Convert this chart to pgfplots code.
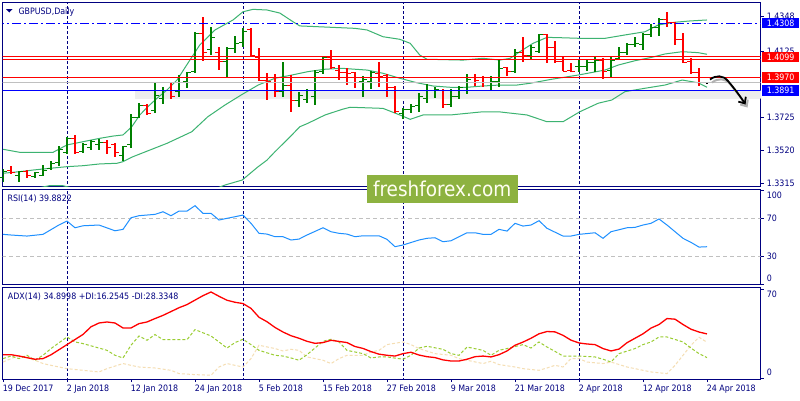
\documentclass[border=0pt]{standalone}
\usepackage{fontspec}
\setmainfont{DejaVu Sans Condensed}
\usepackage{pgfplots}
\pgfplotsset{compat=1.18}
\usepackage{pgfplotstable}
\usetikzlibrary{arrows.meta}

\definecolor{mtnavy}{RGB}{0,0,128}
\definecolor{mtgreen}{RGB}{0,128,0}
\definecolor{mtred}{RGB}{255,0,0}
\definecolor{bband}{RGB}{60,179,113}
\definecolor{rsiblue}{RGB}{30,144,255}
\definecolor{diplus}{RGB}{154,205,50}
\definecolor{diminus}{RGB}{245,222,179}
\definecolor{lvlblue}{RGB}{0,0,255}
\definecolor{wmgreen}{RGB}{141,178,64}
\definecolor{silv}{RGB}{192,192,192}

\newcommand\mt{\fontsize{8.8}{10.5}\selectfont}

\pgfdeclareplotmark{ohlcopen}{\pgfpathmoveto{\pgfqpoint{-3.6pt}{0pt}}\pgfpathlineto{\pgfqpoint{0pt}{0pt}}\pgfusepathqstroke}
\pgfdeclareplotmark{ohlcclose}{\pgfpathmoveto{\pgfqpoint{0pt}{0pt}}\pgfpathlineto{\pgfqpoint{3.6pt}{0pt}}\pgfusepathqstroke}

% GBPUSD daily bars: index, open, high, low, close
\pgfplotstableread{
i o h l c
0 1.3347 1.3403 1.3322 1.3384
2 1.3365 1.3390 1.3322 1.3384
4 1.3359 1.3384 1.3347 1.3378
5 1.3365 1.3427 1.3359 1.3396
6 1.3403 1.3452 1.3396 1.3434
7 1.3440 1.3545 1.3421 1.3521
8 1.3502 1.3601 1.3496 1.3589
10 1.3514 1.3564 1.3502 1.3552
11 1.3533 1.3583 1.3521 1.3576
12 1.3552 1.3589 1.3521 1.3570
15 1.3489 1.3545 1.3452 1.3545
16 1.3552 1.3744 1.3533 1.3725
17 1.3725 1.3812 1.3719 1.3794
19 1.3763 1.3943 1.3750 1.3862
20 1.3843 1.3912 1.3806 1.3887
22 1.3881 1.3986 1.3850 1.3968
23 1.3943 1.4005 1.3906 1.3999
24 1.4005 1.4253 1.3999 1.4241
26 1.4142 1.4284 1.4110 1.4222
28 1.4073 1.4160 1.3974 1.4148
29 1.4148 1.4228 1.4123 1.4185
30 1.4191 1.4278 1.4160 1.4259
35 1.3881 1.4067 1.3850 1.3918
37 1.3831 1.3881 1.3788 1.3856
38 1.3837 1.3899 1.3812 1.3893
39 1.3850 1.4017 1.3800 1.3999
40 1.4005 1.4104 1.3993 1.4098
45 1.3943 1.3980 1.3850 1.3961
46 1.3949 1.4011 1.3899 1.3999
50 1.3750 1.3781 1.3713 1.3775
51 1.3775 1.3806 1.3750 1.3788
52 1.3794 1.3875 1.3757 1.3850
53 1.3843 1.3930 1.3812 1.3893
54 1.3887 1.3912 1.3843 1.3899
56 1.3800 1.3899 1.3788 1.3850
57 1.3850 1.3918 1.3837 1.3906
58 1.3893 1.3993 1.3868 1.3961
61 1.3937 1.3980 1.3887 1.3949
62 1.3949 1.4079 1.3912 1.4024
64 1.4005 1.4148 1.3999 1.4129
66 1.4110 1.4173 1.4086 1.4154
67 1.4135 1.4241 1.4123 1.4235
72 1.4036 1.4086 1.4005 1.4042
73 1.4036 1.4086 1.4011 1.4061
74 1.4061 1.4098 1.4005 1.4079
76 1.4017 1.4104 1.3974 1.4079
77 1.4086 1.4160 1.4079 1.4123
78 1.4123 1.4185 1.4110 1.4173
79 1.4173 1.4222 1.4160 1.4185
80 1.4173 1.4247 1.4142 1.4235
81 1.4235 1.4303 1.4222 1.4284
82 1.4284 1.4340 1.4228 1.4328
}\upbars

\pgfplotstableread{
i o h l c
1 1.3396 1.3421 1.3371 1.3378
3 1.3390 1.3396 1.3347 1.3365
9 1.3595 1.3614 1.3496 1.3508
13 1.3564 1.3583 1.3496 1.3533
14 1.3552 1.3564 1.3477 1.3502
18 1.3794 1.3806 1.3738 1.3750
21 1.3893 1.3937 1.3837 1.3850
25 1.4247 1.4346 1.4073 1.4129
27 1.4129 1.4160 1.4017 1.4073
31 1.4266 1.4278 1.4098 1.4110
32 1.4098 1.4154 1.3949 1.3955
33 1.3955 1.3999 1.3831 1.3949
34 1.3937 1.3993 1.3850 1.3881
36 1.3918 1.3986 1.3757 1.3831
41 1.4098 1.4142 1.4024 1.4030
42 1.4017 1.4048 1.3955 1.4000
43 1.3999 1.4030 1.3924 1.3993
44 1.3999 1.4005 1.3906 1.3968
47 1.3993 1.4067 1.3912 1.3980
48 1.3986 1.3993 1.3850 1.3906
49 1.3906 1.3918 1.3750 1.3757
55 1.3893 1.3899 1.3781 1.3806
59 1.3968 1.3993 1.3918 1.3955
60 1.3968 1.3980 1.3912 1.3937
63 1.4030 1.4036 1.3980 1.4005
65 1.4129 1.4222 1.4067 1.4110
68 1.4235 1.4241 1.4061 1.4154
69 1.4154 1.4197 1.4061 1.4073
70 1.4073 1.4098 1.4011 1.4011
71 1.4017 1.4061 1.4005 1.4011
75 1.4079 1.4092 1.3961 1.4011
83 1.4328 1.4377 1.4284 1.4315
84 1.4315 1.4315 1.4173 1.4204
85 1.4204 1.4247 1.4061 1.4067
86 1.4073 1.4092 1.3993 1.3999
87 1.3999 1.4030 1.3918 1.3937
}\downbars

\pgfplotstableread{
i o h l c
88 1.3937 1.3943 1.3930 1.3937
}\lastbar

\pgfplotsset{
  mtaxis/.style={
    scale only axis, width=758pt,
    xmin=-0.0375, xmax=94.7125,
    axis line style={mtnavy, line width=1pt},
    tick align=outside, major tick length=3pt,
    tick style={mtnavy, line width=0.8pt},
    ytick pos=right, yticklabel pos=right,
    yticklabel style={anchor=west, inner sep=0pt, xshift=3pt, text=mtnavy, font=\mt},
    xticklabel style={text=mtnavy, font=\mt},
    /pgf/number format/assume math mode=true,
    xtick=\empty,
  },
  sep/.style={mtnavy, line width=1pt, dash pattern=on 3pt off 2pt},
  hilo/.style={only marks, mark=ohlcopen, mark options={solid, line width=1pt},
    error bars/y dir=both, error bars/y explicit, error bars/error mark=none,
    error bars/error bar style={solid, line width=1.3pt}},
  closetick/.style={only marks, mark=ohlcclose, mark options={solid, line width=1pt}},
}

\begin{document}
\begin{tikzpicture}
\path[use as bounding box, fill=white] (0pt,0pt) rectangle (800pt,-400pt);

% ================= price window =================
\begin{axis}[mtaxis,
  at={(2.7pt,-2.5pt)}, anchor=north west, height=184pt,
  ymin=1.32938, ymax=1.44365,
  ytick={1.3315,1.3520,1.3725,1.4133,1.4348},
  yticklabels={1.3315,1.3520,1.3725,1.4125,1.4348},
  clip mode=individual,
]
\addplot[sep] coordinates {(8,1.3) (8,1.5)};
\addplot[sep] coordinates {(30,1.3) (30,1.5)};
\addplot[sep] coordinates {(50,1.3) (50,1.5)};
\addplot[sep] coordinates {(72,1.3) (72,1.5)};

% soft shadow under the support line
\fill[top color=black!14, bottom color=white] (axis cs:16.5,1.3887) rectangle (axis cs:94.7,1.3840);

% Bollinger bands (20,2)
\addplot[bband, line width=1pt] coordinates {
(0,1.3525) (2.1,1.3506) (6.25,1.3506) (8,1.3552) (10,1.3572) (12.1,1.3593) (13.75,1.3607) (15,1.3614) (16.1,1.3665) (17.1,1.3738) (18.1,1.3789) (19.25,1.3842) (20.5,1.3893) (21.75,1.3955) (23.4,1.4082) (24.6,1.4173) (26.5,1.4266) (28.75,1.4328) (30,1.4379) (31.25,1.4394) (33,1.4390) (34.6,1.4371) (36.25,1.4317) (37.1,1.4291) (41.25,1.4282) (44,1.4276) (45.5,1.4266) (47.5,1.4224) (49.6,1.4208) (50.9,1.4183) (52.1,1.4110) (53,1.4084) (57.5,1.4079) (60,1.4090) (62.1,1.4079) (63.4,1.4090) (64.6,1.4131) (66.25,1.4183) (68,1.4220) (69.6,1.4218) (72.1,1.4214) (75.25,1.4214) (77.75,1.4235) (80.25,1.4255) (81.9,1.4297) (84,1.4314) (85.9,1.4322) (88,1.4328)};
\addplot[bband, line width=1pt] coordinates {
(0,1.3376) (2.1,1.3386) (3.75,1.3396) (5.9,1.3407) (8,1.3417) (10,1.3423) (12.1,1.3434) (14.25,1.3438) (15,1.3448) (16.25,1.3479) (18.4,1.3521) (20.5,1.3562) (22.1,1.3599) (23.6,1.3634) (25.6,1.3727) (27.75,1.3800) (29.9,1.3866) (31.9,1.3924) (34,1.3966) (36.1,1.3986) (38.1,1.4007) (40.25,1.4022) (42.4,1.4028) (44,1.4022) (45.5,1.4017) (47.5,1.3997) (49.6,1.3966) (51.75,1.3938) (53.75,1.3918) (55.9,1.3910) (58,1.3910) (60,1.3918) (62.1,1.3924) (64.25,1.3924) (65.9,1.3935) (68.6,1.3960) (71.9,1.3986) (75.25,1.4017) (76.9,1.4048) (79,1.4075) (81.1,1.4096) (82.75,1.4117) (84.9,1.4131) (86.9,1.4125) (88,1.4115)};
\addplot[bband, line width=1pt] coordinates {
(0,1.3230) (3,1.3270) (5.9,1.3300) (7.4,1.3300) (9,1.3280) (15,1.3270) (20,1.3230) (25,1.3250) (27.75,1.3303) (29.9,1.3334) (31.9,1.3417) (33,1.3458) (34,1.3510) (35.9,1.3603) (37.1,1.3665) (38.1,1.3686) (40.25,1.3738) (42.4,1.3773) (43.4,1.3786) (47.5,1.3779) (49.6,1.3738) (50.9,1.3711) (52.5,1.3738) (55.9,1.3738) (60,1.3758) (62.1,1.3757) (65.5,1.3738) (68,1.3696) (70,1.3696) (72.1,1.3758) (74.4,1.3811) (76.1,1.3831) (77.75,1.3883) (80.25,1.3904) (82.75,1.3924) (84.9,1.3955) (86.9,1.3938) (88,1.3910)};

% OHLC bars
\addplot[mtgreen, hilo] table[x=i, y=o, y error plus expr=\thisrow{h}-\thisrow{o}, y error minus expr=\thisrow{o}-\thisrow{l}] {\upbars};
\addplot[mtgreen, closetick] table[x=i, y=c] {\upbars};
\addplot[mtred, hilo] table[x=i, y=o, y error plus expr=\thisrow{h}-\thisrow{o}, y error minus expr=\thisrow{o}-\thisrow{l}] {\downbars};
\addplot[mtred, closetick] table[x=i, y=c] {\downbars};
\addplot[black, hilo] table[x=i, y=o, y error plus expr=\thisrow{h}-\thisrow{o}, y error minus expr=\thisrow{o}-\thisrow{l}] {\lastbar};
\addplot[black, closetick] table[x=i, y=c] {\lastbar};

% horizontal levels
\addplot[lvlblue, line width=1pt, dash pattern=on 9pt off 3pt on 2pt off 3pt] coordinates {(-1,1.4308) (96,1.4308)};
\addplot[mtred, line width=1pt] coordinates {(-1,1.4099) (96,1.4099)};
\addplot[mtred, line width=1pt] coordinates {(-1,1.4083) (96,1.4083)};
\addplot[mtred, line width=1pt] coordinates {(-1,1.3970) (96,1.3970)};
\addplot[silv, line width=1pt] coordinates {(-1,1.3938) (96,1.3938)};
\addplot[lvlblue, line width=1.2pt] coordinates {(-1,1.3891) (96,1.3891)};

\coordinate (bA) at (axis cs:94.7125,1.4308);
\coordinate (bB) at (axis cs:94.7125,1.4099);
\coordinate (bC) at (axis cs:94.7125,1.3970);
\coordinate (bD) at (axis cs:94.7125,1.3891);
\end{axis}

\begin{scope}[every node/.style={anchor=west, inner sep=0pt, minimum width=37.5pt, minimum height=10.5pt, text=white, font=\mt, xshift=1pt}]
\node[fill=lvlblue] at (bA) {1.4308};
\node[fill=mtred] at (bB) {1.4099};
\node[fill=mtred] at (bC) {1.3970};
\node[fill=lvlblue] at (bD) {1.3891};
\end{scope}

% ================= RSI window =================
\begin{axis}[mtaxis,
  at={(2.7pt,-189.3pt)}, anchor=north west, height=95pt,
  ymin=0, ymax=100.8,
  ytick={0,30,70,100},
  yticklabels={\raisebox{6pt}[\height][\depth]{0},30,70,\raisebox{-5pt}[\height][\depth]{100}},
]
\addplot[sep] coordinates {(8,-10) (8,120)};
\addplot[sep] coordinates {(30,-10) (30,120)};
\addplot[sep] coordinates {(50,-10) (50,120)};
\addplot[sep] coordinates {(72,-10) (72,120)};
\addplot[silv, line width=1pt, dash pattern=on 4pt off 3pt] coordinates {(-1,70) (96,70)};
\addplot[silv, line width=1pt, dash pattern=on 4pt off 3pt] coordinates {(-1,30) (96,30)};
\addplot[rsiblue, line width=1pt] coordinates {
(0,53.0)(1,52.3)(3,51.2)(5,53.0)(6,58.0)(7,63.0)(8,67.1)(9,60.0)(10,62.1)(12,62.9)(14,56.8)(15,58.3)(16,70.6)(17,72.8)(19,74.2)(20,77.0)(21,72.8)(22,77.7)(23,77.7)(24,83.4)(25,75.3)(26,75.3)(27,68.2)(28,70.0)(29,71.7)(30,73.5)(31,64.7)(32,54.1)(33,53.3)(34,50.5)(35,50.5)(36,47.0)(37,48.0)(38,52.3)(40,60.0)(41,55.8)(42,54.1)(43,53.3)(44,50.5)(45,51.5)(47,51.5)(48,47.7)(49,39.9)(50,41.7)(52,47.0)(53,48.8)(54,49.4)(55,45.2)(56,46.2)(58,54.7)(59,54.7)(60,53.0)(61,53.0)(62,58.3)(63,56.5)(64,64.7)(65,61.8)(66,62.9)(67,67.5)(68,59.4)(70,51.2)(71,51.2)(72,53.0)(74,54.7)(75,48.8)(76,55.8)(78,60.0)(79,60.4)(80,62.9)(81,64.7)(82,69.3)(83,62.9)(85,48.8)(86,44.5)(87,39.5)(88,39.88)};
\end{axis}

% ================= ADX window =================
\begin{axis}[mtaxis,
  at={(2.7pt,-287.3pt)}, anchor=north west, height=91.7pt,
  ymin=-0.55, ymax=71.57,
  ytick={0,70},
  yticklabels={\raisebox{6pt}[\height][\depth]{0},\raisebox{-5pt}[\height][\depth]{70}},
  xtick={0,8,16,24,32,40,48,56,64,72,80,88},
  xticklabels={19 Dec 2017,2 Jan 2018,12 Jan 2018,24 Jan 2018,5 Feb 2018,15 Feb 2018,27 Feb 2018,9 Mar 2018,21 Mar 2018,2 Apr 2018,12 Apr 2018,24 Apr 2018},
  xtick pos=left,
  xticklabel style={anchor=north west, inner sep=0pt, xshift=-0.4pt, yshift=-3pt},
]
\addplot[sep] coordinates {(8,-10) (8,90)};
\addplot[sep] coordinates {(30,-10) (30,90)};
\addplot[sep] coordinates {(50,-10) (50,90)};
\addplot[sep] coordinates {(72,-10) (72,90)};
% -DI
\addplot[diminus, line width=1pt, dash pattern=on 3pt off 2pt] coordinates {
(0,12.8)(2,18.1)(4,14.2)(5,11.6)(6,10.2)(8,7.6)(10,6.3)(12,5.0)(13,7.6)(15,11.6)(16,10.2)(17,8.9)(19,8.1)(21,6.3)(22,3.7)(24,2.9)(26,2.4)(27,8.9)(28,11.6)(29,10.2)(30,8.9)(31,15.5)(32,26.0)(34,23.4)(35,21.5)(36,22.8)(37,22.0)(38,16.8)(40,14.2)(41,11.6)(42,15.5)(43,18.1)(45,18.1)(46,20.7)(47,22.0)(48,26.5)(50,28.6)(51,26.5)(52,23.4)(54,19.4)(56,18.1)(57,15.5)(58,14.2)(60,11.6)(61,13.4)(62,10.8)(64,8.9)(65,7.6)(67,6.3)(68,8.1)(69,10.2)(70,8.9)(71,15.5)(72,15.5)(73,12.8)(75,11.6)(76,12.8)(78,8.9)(80,6.3)(81,5.0)(83,3.7)(84,10.2)(85,18.1)(86,26.0)(87,32.3)(88,28.33)};
% +DI
\addplot[diplus, line width=1pt, dash pattern=on 3pt off 2pt] coordinates {
(0,15.5)(1,17.5)(2,15.5)(3,18.1)(4,14.2)(5,18.1)(6,23.4)(8,32.5)(9,28.6)(10,27.3)(12,23.8)(13,22.0)(14,18.1)(15,16.0)(16,26.0)(17,33.3)(18,29.9)(19,34.4)(20,30.4)(21,30.4)(23,30.4)(24,38.3)(26,33.3)(27,28.6)(28,23.8)(29,28.1)(30,30.7)(31,26.5)(32,22.0)(34,18.1)(35,17.5)(36,16.0)(37,14.2)(38,18.6)(40,29.1)(41,30.7)(42,28.6)(43,22.0)(45,19.4)(46,16.0)(47,16.8)(48,16.8)(50,15.0)(51,18.1)(52,23.8)(53,25.2)(55,22.8)(56,19.4)(57,18.1)(58,24.6)(60,22.0)(61,18.1)(62,22.0)(63,23.4)(65,26.5)(66,23.8)(67,28.6)(68,24.6)(69,21.2)(70,17.5)(72,17.5)(74,16.8)(75,15.0)(76,12.8)(77,19.4)(79,23.4)(80,26.5)(81,28.6)(82,32.5)(83,32.5)(85,28.6)(86,23.8)(87,19.4)(88,16.25)};
% ADX
\addplot[mtred, line width=1.3pt] coordinates {
(0,18.6)(1,18.6)(2,17.5)(4,15.0)(5,15.5)(6,18.5)(8,26.5)(10,34.5)(11,40.5)(12,43.5)(13,44.3)(14,43.5)(15,39.6)(16,39.6)(17,43.0)(18,44.3)(19,47.0)(20,49.5)(21,52.5)(22,55.5)(23,58.0)(24,61.5)(25,65.0)(26,67.9)(27,64.5)(28,61.4)(29,59.8)(30,58.8)(31,55.0)(32,48.0)(33,44.5)(34,40.0)(35,36.4)(36,33.5)(37,31.5)(38,29.1)(39,27.5)(40,28.1)(41,29.9)(42,29.0)(43,28.1)(44,25.0)(45,23.5)(46,21.0)(47,19.0)(48,18.1)(49,17.5)(50,19.4)(51,20.5)(52,18.3)(53,17.0)(54,16.3)(55,14.5)(56,13.6)(57,13.6)(58,15.0)(59,17.0)(60,17.5)(61,16.8)(62,18.6)(63,21.5)(64,26.0)(65,28.5)(66,31.5)(67,35.0)(68,36.8)(69,36.5)(70,33.8)(71,30.0)(72,27.8)(73,27.0)(74,26.5)(75,23.4)(76,21.5)(77,23.0)(78,28.0)(79,31.5)(80,35.0)(81,39.5)(82,42.3)(83,47.0)(84,46.5)(85,42.3)(86,38.6)(87,36.4)(88,34.90)};
\end{axis}

% window captions
\fill[mtnavy] (6pt,-9pt) -- (12.5pt,-9pt) -- (9.25pt,-12.5pt) -- cycle;
\node[anchor=base west, inner sep=0pt, text=mtnavy, font=\mt] at (18.3pt,-14.5pt) {GBPUSD,Daily};
\node[anchor=base west, inner sep=0pt, text=mtnavy, font=\mt] at (7.3pt,-201pt) {RSI(14) 39.8822};
\node[anchor=base west, inner sep=0pt, text=mtnavy, font=\mt] at (7.7pt,-299.5pt) {ADX(14) 34.8998 +DI:16.2545 -DI:28.3348};

% forecast arrow
\draw[black!30, line width=2pt, -{Straight Barb[length=5pt,width=9pt]}, shift={(2pt,-3pt)}]
  (710pt,-79.5pt) .. controls (716pt,-75pt) and (723pt,-75pt) .. (728pt,-81pt) .. controls (734pt,-88pt) and (740pt,-96pt) .. (745.5pt,-104.5pt);
\draw[black, line width=1.8pt, -{Straight Barb[length=5pt,width=9pt]}]
  (710pt,-79.5pt) .. controls (716pt,-75pt) and (723pt,-75pt) .. (728pt,-81pt) .. controls (734pt,-88pt) and (740pt,-96pt) .. (745.5pt,-104.5pt);

% watermark
\node[fill=wmgreen, anchor=north west, minimum width=150.6pt, minimum height=27.7pt, inner sep=0pt, text=white!95!yellow]
  at (366.7pt,-175pt) {\fontsize{20.5}{24}\selectfont freshforex.com};
\end{tikzpicture}
\end{document}
